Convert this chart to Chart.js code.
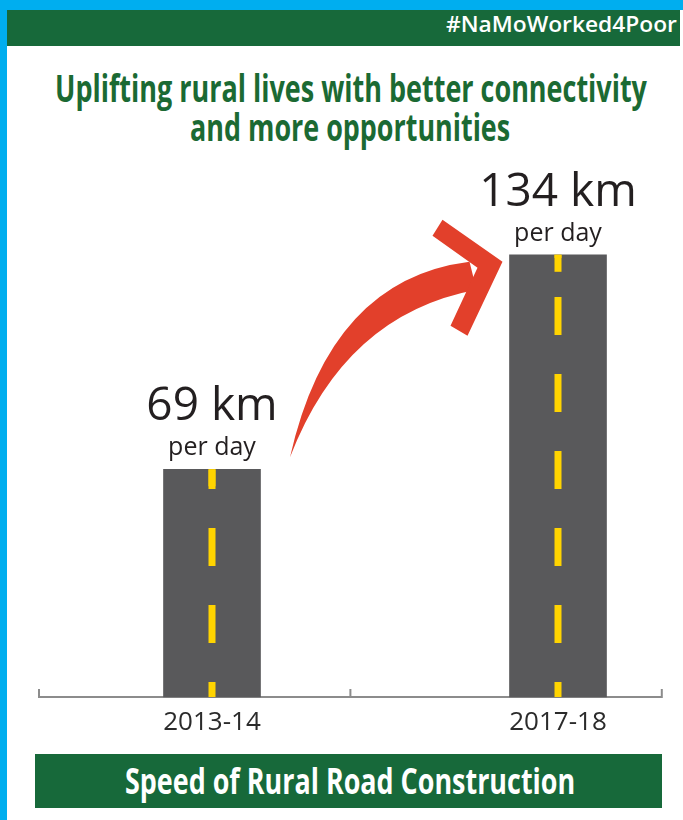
<!DOCTYPE html>
<html>
<head>
<meta charset="utf-8">
<script src="https://cdn.jsdelivr.net/npm/chart.js@4.4.1/dist/chart.umd.min.js"></script>
<style>
html,body{margin:0;padding:0;}
body{width:683px;height:820px;background:#00aeef;position:relative;overflow:hidden;font-family:"Open Sans",sans-serif;}
#panel{position:absolute;left:7px;top:10px;width:676px;height:810px;background:#fff;}
#header{position:absolute;left:7px;top:10px;width:673px;height:36px;background:#17693a;}
#tag{position:absolute;right:3px;top:0;height:36px;line-height:36px;color:#fff;font:600 21px "Open Sans",sans-serif;white-space:nowrap;}
#tag span{display:inline-block;transform-origin:right center;}
.cond{position:absolute;left:9px;width:683px;display:flex;justify-content:center;white-space:nowrap;}
.cond span{display:inline-block;flex:none;transform-origin:center center;}
#t1,#t2{color:#1b6a33;font:bold 38px "Liberation Sans Narrow","Open Sans",sans-serif;height:40px;line-height:40px;}
#t1{top:67px;}
#t2{top:106px;}
#footer{position:absolute;left:35px;top:754px;width:627px;height:54px;background:#17693a;}
#ft{left:2px;width:627px;top:0;color:#fff;font:bold 36px "Liberation Sans Narrow","Open Sans",sans-serif;height:54px;line-height:54px;}
#wrap{position:absolute;left:0;top:0;width:683px;height:820px;}
</style>
</head>
<body>
<div id="panel"></div>
<div id="header"><div id="tag"><span data-w="231">#NaMoWorked4Poor</span></div></div>
<div class="cond" id="t1"><span data-w="592">Uplifting rural lives with better connectivity</span></div>
<div class="cond" id="t2"><span data-w="320">and more opportunities</span></div>
<div id="footer"><div class="cond" id="ft"><span data-w="450">Speed of Rural Road Construction</span></div></div>
<div id="wrap"><canvas id="c" width="683" height="820"></canvas></div>
<script>
const categories = ["2013-14", "2017-18"];
const kmPerDay = [69, 134];
const valueUnit = "km";
const subLabel = "per day";

function fitText() {
  document.querySelectorAll('span[data-w]').forEach(s => {
    const target = parseFloat(s.dataset.w);
    const w = s.offsetWidth;
    if (w > 0) s.style.transform = 'scaleX(' + (target / w) + ')';
  });
}
fitText();
if (document.fonts && document.fonts.ready) document.fonts.ready.then(fitText);

const roadPlugin = {
  id: 'road',
  beforeDatasetsDraw(chart) {
    const ctx = chart.ctx;
    const xs = chart.scales.x;
    const p0 = xs.getPixelForValue(0), p1 = xs.getPixelForValue(1);
    const gap = p1 - p0;
    const base = chart.chartArea.bottom;
    const left = p0 - 0.5 * gap, right = p1 + 0.3 * gap, mid = (left + right) / 2;
    ctx.save();
    ctx.strokeStyle = '#8c8c8c';
    ctx.lineWidth = 2;
    ctx.beginPath();
    ctx.moveTo(left, base - 8); ctx.lineTo(left, base); ctx.lineTo(right, base); ctx.lineTo(right, base - 8);
    ctx.moveTo(mid, base - 8); ctx.lineTo(mid, base);
    ctx.stroke();
    ctx.restore();
  },
  afterDatasetsDraw(chart) {
    const ctx = chart.ctx;
    const bars = chart.getDatasetMeta(0).data;
    const base = chart.chartArea.bottom;
    ctx.save();
    bars.forEach(b => {
      ctx.strokeStyle = '#ffd400';
      ctx.lineWidth = 7;
      ctx.setLineDash([38, 39]);
      ctx.lineDashOffset = 23;
      ctx.beginPath();
      ctx.moveTo(b.x, base);
      ctx.lineTo(b.x, b.y);
      ctx.stroke();
      ctx.setLineDash([]);
      ctx.fillStyle = '#ffd400';
      ctx.fillRect(b.x - 3.5, b.y, 7, 17);
    });
    ctx.fillStyle = '#231f20';
    ctx.textAlign = 'center';
    ctx.textBaseline = 'alphabetic';
    bars.forEach((b, i) => {
      ctx.font = '400 46px "Open Sans", sans-serif';
      ctx.fillText(kmPerDay[i] + ' ' + valueUnit, b.x, b.y - 49);
      ctx.font = '400 25px "Open Sans", sans-serif';
      ctx.fillText(subLabel, b.x, b.y - 14);
    });
    const b1 = bars[0], b2 = bars[1];
    const T = {x: b1.x + 78, y: b1.y - 12};
    const B = {x: b2.x - b2.width / 2 - 7, y: b2.y + 7};
    ctx.fillStyle = '#e2402b';
    ctx.beginPath();
    ctx.moveTo(T.x, T.y);
    ctx.quadraticCurveTo(T.x + 40, T.y - 178, B.x - 33, B.y);
    ctx.lineTo(B.x - 26, B.y + 28);
    ctx.quadraticCurveTo(T.x + 55, T.y - 143, T.x, T.y);
    ctx.closePath();
    ctx.fill();
    ctx.beginPath();
    ctx.moveTo(B.x - 60, B.y - 42);
    ctx.lineTo(B.x, B.y);
    ctx.lineTo(B.x - 35, B.y + 74);
    ctx.lineTo(B.x - 52, B.y + 64);
    ctx.lineTo(B.x - 25, B.y + 6);
    ctx.lineTo(B.x - 70, B.y - 26);
    ctx.closePath();
    ctx.fill();
    ctx.restore();
  }
};

new Chart(document.getElementById('c'), {
  type: 'bar',
  data: {
    labels: categories,
    datasets: [{
      data: kmPerDay,
      backgroundColor: '#59595b',
      borderWidth: 0,
      barThickness: 97,
      clip: false
    }]
  },
  options: {
    responsive: false,
    animation: false,
    events: [],
    layout: {padding: {top: 169, left: 212, right: 125, bottom: 73}},
    plugins: {legend: {display: false}, tooltip: {enabled: false}},
    scales: {
      y: {display: false, min: 0, max: 160},
      x: {
        offset: false,
        grid: {display: false, drawTicks: false},
        border: {display: false},
        ticks: {font: {family: '"Open Sans", sans-serif', size: 26}, color: '#2b2b2b', padding: 10, maxRotation: 0},
        afterFit(s) { s.height = 50; }
      }
    }
  },
  plugins: [roadPlugin]
});
</script>
</body>
</html>
